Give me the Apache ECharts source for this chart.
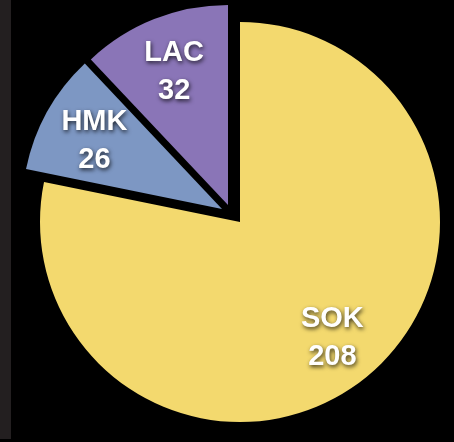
<!DOCTYPE html>
<html>
<head>
    <meta charset="utf-8">
    <title>Pie</title>
    <script src="https://cdn.jsdelivr.net/npm/echarts@6/dist/echarts.min.js"></script>
    <style>
        html, body { margin: 0; padding: 0; background: #000; }
    </style>
</head>
<body>
    <div id="main" style="width: 454px;height:442px;"></div>
    <script type="text/javascript">
        var names = ['SOK', 'HMK', 'LAC'];
        var values = [208, 26, 32];
        var colors = ['#f3d96e', '#7d97c3', '#8a75b7'];

        // layout: where each slice is pulled out to (pixel shift of the pie centre)
        var pieCenter = [240, 222];
        var shifts = [[0, 0], [-18, -13], [-12, -17]];
        var radius = 200;

        var dom = document.getElementById('main');
        var myChart = echarts.init(dom);

        var total = values.reduce(function (a, b) { return a + b; }, 0);
        // bisector of each slice, clockwise from 12 o'clock (radians)
        var mids = [];
        var acc = 0;
        for (var i = 0; i < values.length; i++) {
            mids.push((acc + values[i] / 2) / total * Math.PI * 2);
            acc += values[i];
        }
        // push labels outward from half radius to ~0.71 radius
        var push = radius * 0.215;

        // one pie per slice so each piece can be pulled out on its own
        var series = names.map(function (n, k) {
            return {
                type: 'pie',
                center: [pieCenter[0] + shifts[k][0], pieCenter[1] + shifts[k][1]],
                radius: radius,
                startAngle: 90,
                clockwise: true,
                silent: true,
                avoidLabelOverlap: false,
                label: {
                    show: true,
                    position: 'inside',
                    formatter: '{b}\n{c}',
                    color: '#fff',
                    fontFamily: 'Liberation Sans, Arial, sans-serif',
                    fontWeight: 'bold',
                    fontSize: 29,
                    lineHeight: 38,
                    textShadowColor: 'rgba(0,0,0,0.75)',
                    textShadowBlur: 4,
                    textShadowOffsetX: 1,
                    textShadowOffsetY: 2
                },
                labelLine: { show: false },
                emphasis: { disabled: true },
                labelLayout: function (p) {
                    var a = mids[p.dataIndex];
                    return {
                        dx: Math.sin(a) * push,
                        dy: -Math.cos(a) * push + 3
                    };
                },
                data: names.map(function (m, i) {
                    return {
                        name: m,
                        value: values[i],
                        itemStyle: { color: i === k ? colors[i] : 'rgba(0,0,0,0)' },
                        label: { show: i === k }
                    };
                })
            };
        });

        var option = {
            backgroundColor: '#000',
            animation: false,
            graphic: [{
                type: 'rect',
                left: 0, top: 0,
                shape: { width: 11, height: 439 },
                style: { fill: '#231f20' }
            }],
            series: series
        };

        myChart.setOption(option);
    </script>
</body>
</html>
